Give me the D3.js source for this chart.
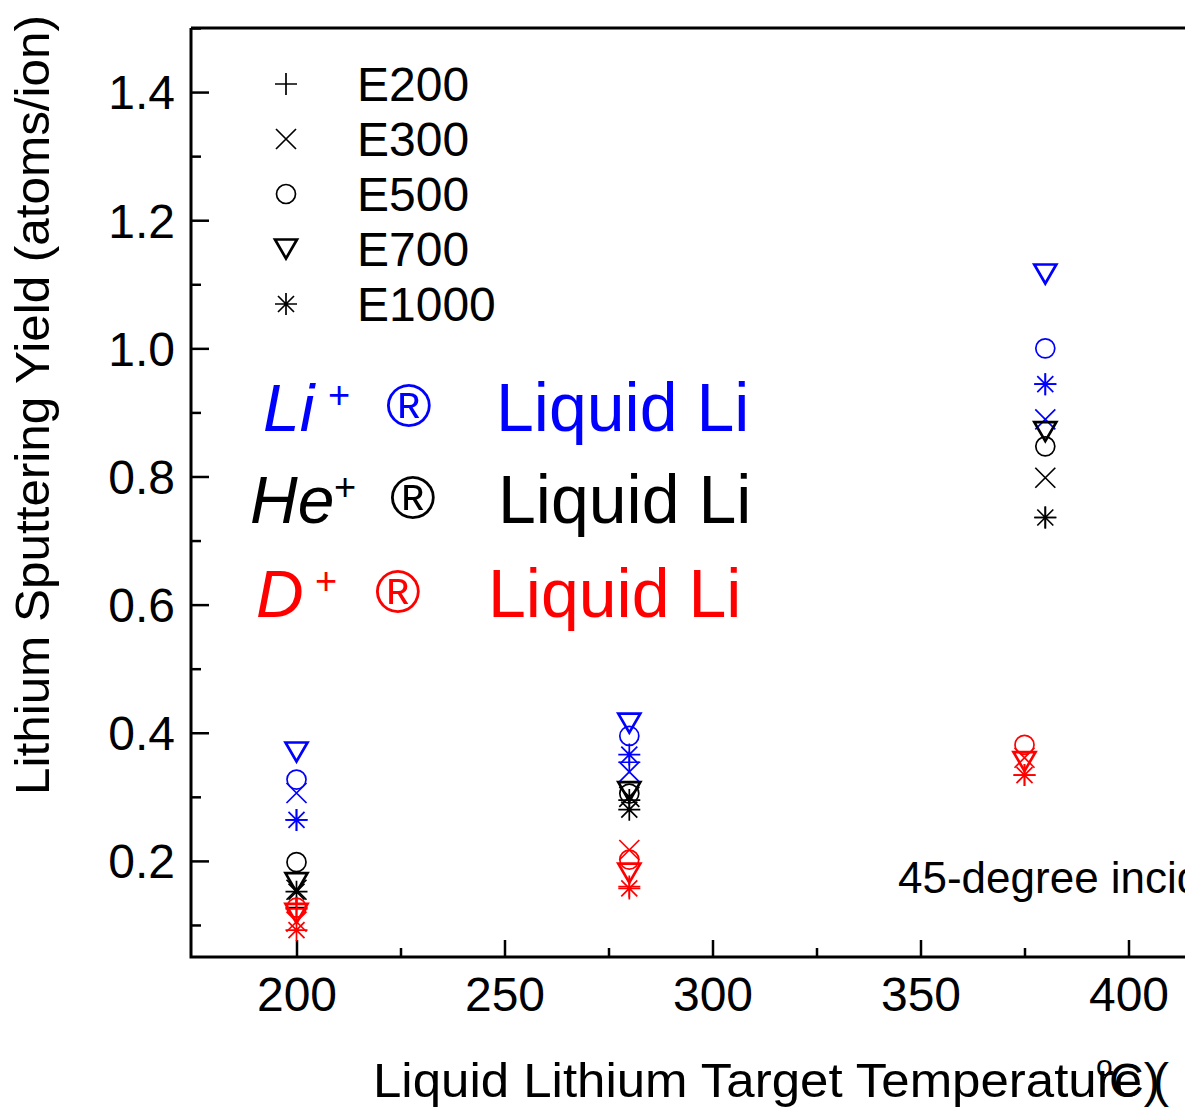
<!DOCTYPE html>
<html>
<head>
<meta charset="utf-8">
<script src="https://cdn.jsdelivr.net/npm/d3@7/dist/d3.min.js"></script>
<style>
  html, body { margin: 0; padding: 0; background: #fff; }
  svg { display: block; font-family: "Liberation Sans", Arial, sans-serif; }
</style>
</head>
<body>
<svg id="chart" width="1191" height="1110"></svg>
<script>
// Lithium sputtering yield (atoms/ion) vs. liquid Li target temperature (°C)
const energies = ["E200", "E300", "E500", "E700", "E1000"];
const symbolKinds = ["plus", "times", "circle", "triangle", "asterisk"];

// Li+ on liquid Li
const liTemps = [200, 280, 380];
const liE200 = [0.264, 0.354, 0.944];
const liE300 = [0.306, 0.339, 0.889];
const liE500 = [0.327, 0.395, 1.000];
const liE700 = [0.370, 0.415, 1.116];
const liE1000 = [0.264, 0.366, 0.944];

// He+ on liquid Li
const heTemps = [200, 280, 380];
const heE200 = [0.127, 0.295, 0.736];
const heE300 = [0.155, 0.300, 0.798];
const heE500 = [0.198, 0.305, 0.847];
const heE700 = [0.166, 0.308, 0.870];
const heE1000 = [0.152, 0.280, 0.736];

// D+ on liquid Li
const dTemps = [200, 280, 375];
const dE200 = [0.125, 0.160, 0.334];
const dE300 = [0.105, 0.217, 0.361];
const dE500 = [0.127, 0.202, 0.381];
const dE700 = [0.118, 0.181, 0.355];
const dE1000 = [0.092, 0.157, 0.334];

const xMajorTicks = [200, 250, 300, 350, 400];
const xMinorTicks = [225, 275, 325, 375];
const yMajorTicks = [0.2, 0.4, 0.6, 0.8, 1.0, 1.2, 1.4];
const yMinorTicks = [0.1, 0.3, 0.5, 0.7, 0.9, 1.1, 1.3, 1.5];

const ions = [
  { color: "#0000ff", temps: liTemps, series: [liE200, liE300, liE500, liE700, liE1000] },
  { color: "#000000", temps: heTemps, series: [heE200, heE300, heE500, heE700, heE1000] },
  { color: "#ff0000", temps: dTemps, series: [dE200, dE300, dE500, dE700, dE1000] }
];

const svg = d3.select("#chart");
const plotLeft = 191, plotRight = 1185, plotTop = 28, plotBottom = 957;

const x = d3.scaleLinear().domain([175, 425]).range([192.5, 1232.5]);
const y = d3.scaleLinear().domain([0.05, 1.5]).range([plotBottom, plotTop]);

svg.append("defs").append("clipPath").attr("id", "plotClip")
  .append("rect").attr("x", 0).attr("y", 0).attr("width", plotRight).attr("height", 1110);

const root = svg.append("g").attr("clip-path", "url(#plotClip)");

// Marker shapes
function markerPath(kind) {
  const p = d3.path();
  if (kind === "plus") {
    p.moveTo(-11, 0); p.lineTo(11, 0); p.moveTo(0, -11); p.lineTo(0, 11);
  } else if (kind === "times") {
    p.moveTo(-10, -10); p.lineTo(10, 10); p.moveTo(-10, 10); p.lineTo(10, -10);
  } else if (kind === "circle") {
    p.moveTo(9.5, 0); p.arc(0, 0, 9.5, 0, 2 * Math.PI);
  } else if (kind === "triangle") {
    p.moveTo(-11, -9.5); p.lineTo(11, -9.5); p.lineTo(0, 9.5); p.closePath();
  } else if (kind === "asterisk") {
    p.moveTo(-11, 0); p.lineTo(11, 0); p.moveTo(0, -11); p.lineTo(0, 11);
    p.moveTo(-8, -8); p.lineTo(8, 8); p.moveTo(-8, 8); p.lineTo(8, -8);
  }
  return p.toString();
}
const markerWidth = { plus: 1.7, times: 1.7, circle: 1.7, triangle: 2.7, asterisk: 1.7 };

// Axes
const fontSize = 48;
const yAxis = root.append("g").attr("transform", `translate(${plotLeft},0)`)
  .call(d3.axisLeft(y).tickValues(yMajorTicks).tickSize(-18).tickPadding(16)
    .tickFormat(d3.format(".1f")));
root.append("g").attr("transform", `translate(${plotLeft},0)`)
  .call(d3.axisLeft(y).tickValues(yMinorTicks).tickSize(-10).tickFormat(""));

const xAxis = root.append("g").attr("transform", `translate(0,${plotBottom})`)
  .call(d3.axisBottom(x).tickValues(xMajorTicks).tickSize(-17).tickPadding(20)
    .tickFormat(d3.format("d")));
root.append("g").attr("transform", `translate(0,${plotBottom})`)
  .call(d3.axisBottom(x).tickValues(xMinorTicks).tickSize(-9).tickFormat(""));

root.selectAll(".domain").remove();
root.selectAll(".tick line").attr("stroke", "#000").attr("stroke-width", 2.5);
root.selectAll(".tick text").attr("font-size", fontSize).attr("fill", "#000")
  .attr("font-family", "Liberation Sans, Arial, sans-serif");
yAxis.selectAll(".tick text").attr("dy", "0.35em");
xAxis.selectAll(".tick text").attr("dy", "0.71em");

// Frame lines
root.append("path")
  .attr("d", `M${plotLeft},${plotTop}L${plotLeft},${plotBottom}L${plotRight + 10},${plotBottom}`)
  .attr("fill", "none").attr("stroke", "#000").attr("stroke-width", 3);
root.append("line").attr("x1", plotLeft).attr("x2", plotRight + 10).attr("y1", plotTop).attr("y2", plotTop)
  .attr("stroke", "#000").attr("stroke-width", 3);

// Data points
ions.forEach(ion => {
  ion.series.forEach((vals, si) => {
    const kind = symbolKinds[si];
    root.append("g").selectAll("path")
      .data(vals.map((v, i) => ({ t: ion.temps[i], v })))
      .join("path")
      .attr("transform", d => `translate(${x(d.t)},${y(d.v)})`)
      .attr("d", markerPath(kind))
      .attr("fill", "none")
      .attr("stroke", ion.color)
      .attr("stroke-width", markerWidth[kind]);
  });
});

// Legend
const legendRows = [84, 139, 194, 249, 304];
const legend = root.append("g");
energies.forEach((e, i) => {
  const kind = symbolKinds[i];
  legend.append("path")
    .attr("transform", `translate(286,${legendRows[i]})`)
    .attr("d", markerPath(kind))
    .attr("fill", "none").attr("stroke", "#000").attr("stroke-width", markerWidth[kind]);
  legend.append("text")
    .attr("x", 357).attr("y", legendRows[i] + 17)
    .attr("font-size", fontSize).attr("fill", "#000").text(e);
});

// Ion / target labels
const ionLabels = [
  { ion: "Li", color: "#0000ff", base: 431, ionX: 263, plusX: 328, regX: 386, liqX: 496 },
  { ion: "He", color: "#000000", base: 523, ionX: 250, plusX: 334, regX: 390, liqX: 498 },
  { ion: "D",  color: "#ff0000", base: 617, ionX: 256, plusX: 315, regX: 375, liqX: 488 }
];
ionLabels.forEach(l => {
  const g = root.append("g").attr("fill", l.color);
  g.append("text").attr("x", l.ionX).attr("y", l.base)
    .attr("font-size", 66).attr("font-style", "italic").text(l.ion);
  g.append("text").attr("x", l.plusX).attr("y", l.base - 23)
    .attr("font-size", 38).text("+");
  g.append("text").attr("x", l.regX).attr("y", l.base - 4)
    .attr("font-size", 62).text("®");
  g.append("text").attr("x", l.liqX).attr("y", l.base)
    .attr("font-size", 68).text("Liquid Li");
});

// Incidence note
root.append("text").attr("x", 898).attr("y", 893)
  .attr("font-size", 44).attr("fill", "#000").text("45-degree incidence");

// Axis titles
root.append("text")
  .attr("transform", "translate(49,405) rotate(-90)")
  .attr("text-anchor", "middle")
  .attr("font-size", 48)
  .attr("textLength", 780).attr("lengthAdjust", "spacingAndGlyphs")
  .attr("fill", "#000")
  .text("Lithium Sputtering Yield (atoms/ion)");

const xTitle = root.append("g").attr("fill", "#000");
xTitle.append("text").attr("x", 373).attr("y", 1097)
  .attr("font-size", 48).attr("textLength", 769).attr("lengthAdjust", "spacingAndGlyphs")
  .text("Liquid Lithium Target Temperature");
xTitle.append("text").attr("x", 1096).attr("y", 1076).attr("font-size", 30).text("o");
xTitle.append("text").attr("x", 1109).attr("y", 1097).attr("font-size", 48).text("C)");
xTitle.append("text").attr("x", 1153).attr("y", 1097).attr("font-size", 48).text("(");
</script>
</body>
</html>
